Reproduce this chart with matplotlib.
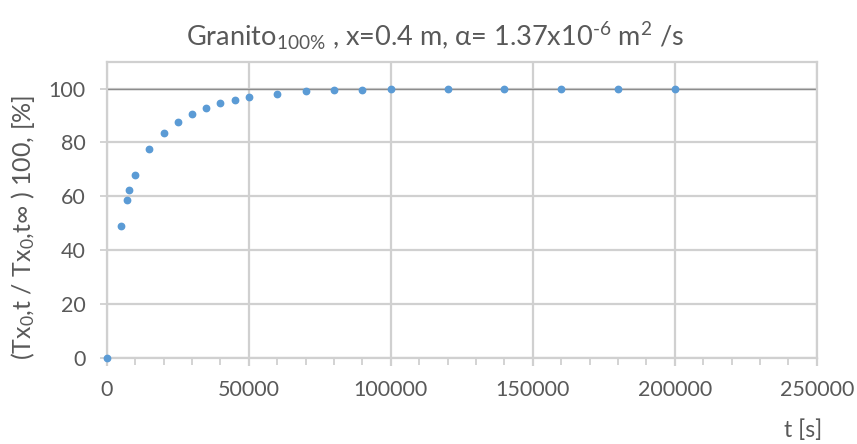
import matplotlib
matplotlib.use("Agg")
import matplotlib.pyplot as plt
from matplotlib.ticker import MultipleLocator

plt.rcParams['font.family'] = ['Lato', 'DejaVu Sans']
plt.rcParams['mathtext.fontset'] = 'custom'
plt.rcParams['mathtext.rm'] = 'Lato'
plt.rcParams['mathtext.it'] = 'Lato:italic'
plt.rcParams['mathtext.bf'] = 'Lato:bold'

# Data
t_s = [0, 5000, 7000, 8000, 10000, 15000, 20000, 25000, 30000, 35000, 40000,
       45000, 50000, 60000, 70000, 80000, 90000, 100000, 120000, 140000,
       160000, 180000, 200000]
ratio_pct = [0, 48.8, 58.6, 62.2, 68.0, 77.6, 83.6, 87.7, 90.7, 92.8, 94.6,
             95.8, 96.8, 98.1, 99.0, 99.3, 99.5, 99.7, 99.8, 99.9,
             99.9, 100.0, 100.0]
reference_line = 100

title = "Granito$_{\\mathregular{100\\%}}$ , x=0.4 m, α= 1.37x10$^{\\text{-}\\mathregular{6}}$ m$^{\\mathregular{2}}$ /s"
xlabel = "t [s]"
ylabel = "(Tx$_{\\mathregular{0}}$,t / Tx$_{\\mathregular{0}}$,t∞ ) 100, [%]"

TXT = '#595959'
GRID = '#d0d0d0'

fig = plt.figure(figsize=(8.57, 4.44), dpi=100)
ax = fig.add_axes([106.7/857, 1-357.7/444, (816.7-106.7)/857, (357.7-61.7)/444])

ax.set_xlim(0, 250000)
ax.set_ylim(0, 110)
ax.xaxis.set_major_locator(MultipleLocator(50000))
ax.xaxis.set_minor_locator(MultipleLocator(10000))
ax.set_yticks([0, 20, 40, 60, 80, 100])

ax.grid(True, which='major', color=GRID, linewidth=1.6)
ax.set_axisbelow(True)
for s in ax.spines.values():
    s.set_color(GRID)
    s.set_linewidth(1.6)

ax.axhline(reference_line, color='#8c8c8c', linewidth=1.0, zorder=2)
ax.plot(t_s, ratio_pct, linestyle='none', marker='o', markersize=4.6,
        color='#5b9bd5', zorder=3, clip_on=False)

ax.tick_params(axis='x', which='major', length=6, width=1.6, color=GRID,
               labelsize=15.5, labelcolor=TXT, pad=10)
ax.tick_params(axis='x', which='minor', length=5, width=1.3, color=GRID)
ax.tick_params(axis='y', which='major', length=5, width=1.3, color=GRID,
               labelsize=15.5, labelcolor=TXT, pad=10)

fig.text(435/857, 1-36/444, title, ha='center', va='center', fontsize=19.5, color=TXT)
fig.text(822/857, 1-430/444, xlabel, ha='right', va='center', fontsize=16.5, color=TXT)
fig.text(23/857, 1-227/444, ylabel, ha='center', va='center', rotation=90,
         fontsize=18, color=TXT)

fig.savefig('out.png', dpi=100)
